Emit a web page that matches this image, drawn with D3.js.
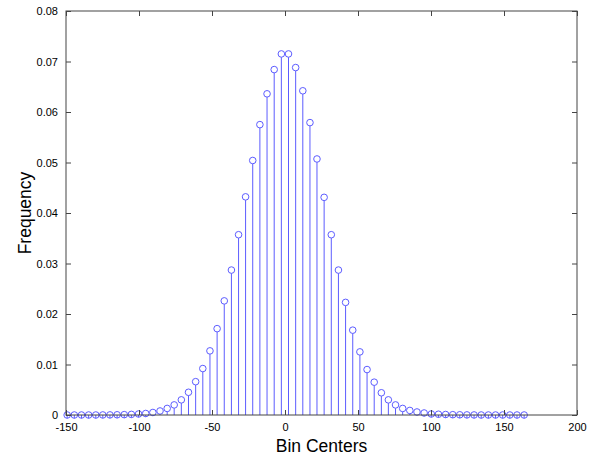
<!DOCTYPE html>
<html>
<head>
<meta charset="utf-8">
<script src="https://cdn.jsdelivr.net/npm/d3@7"></script>
<style>
  body { margin: 0; background: #fff; }
  text { font-family: "Liberation Sans", Arial, sans-serif; }
</style>
</head>
<body>
<div id="chart"></div>
<script>
// bin centers
var binCenters = [-149.2, -144.3, -139.4, -134.5, -129.6, -124.8, -119.9, -115.0, -110.1, -105.2,
  -100.3, -95.4, -90.5, -85.6, -80.7, -75.9, -71.0, -66.1, -61.2, -56.3,
  -51.4, -46.5, -41.6, -36.7, -31.8, -27.0, -22.1, -17.2, -12.3, -7.4,
  -2.5, 2.4, 7.3, 12.2, 17.1, 21.9, 26.8, 31.7, 36.6, 41.5,
  46.4, 51.3, 56.2, 61.1, 66.0, 70.8, 75.7, 80.6, 85.5, 90.4,
  95.3, 100.2, 105.1, 110.0, 114.9, 119.7, 124.6, 129.5, 134.4, 139.3,
  144.2, 149.1, 154.0, 158.9, 163.8];

var frequency = [0, 0, 0, 0, 0, 0.00001, 0.00002, 0.00004, 0.00007, 0.00012,
  0.0002, 0.0003, 0.0005, 0.0008, 0.0013, 0.0020, 0.0030, 0.0045, 0.0066, 0.0092,
  0.0127, 0.0171, 0.0226, 0.0287, 0.0357, 0.0432, 0.0504, 0.0575, 0.0636, 0.0684,
  0.0715, 0.0715, 0.0688, 0.0642, 0.0579, 0.0507, 0.0431, 0.0357, 0.0287, 0.0223,
  0.0168, 0.0125, 0.0090, 0.0065, 0.0044, 0.0030, 0.0020, 0.0013, 0.0009, 0.0006,
  0.0004, 0.0002, 0.00015, 0.0001, 0.00006, 0.00004, 0.00002, 0.00001, 0, 0,
  0, 0, 0, 0, 0];

var xTicks = [-150, -100, -50, 0, 50, 100, 150, 200];
var yTicks = [0, 0.01, 0.02, 0.03, 0.04, 0.05, 0.06, 0.07, 0.08];

var data = binCenters.map(function(c, i) { return {x: c, y: frequency[i]}; });

var margin = {top: 11, right: 21, bottom: 44, left: 66},
    width = 598 - margin.left - margin.right,
    height = 459 - margin.top - margin.bottom;

var svg = d3.select("#chart")
  .append("svg")
    .attr("width", 598)
    .attr("height", 459)
  .append("g")
    .attr("transform", "translate(" + margin.left + "," + margin.top + ")");

var x = d3.scaleLinear().domain([-150, 200]).range([0, width]);
var y = d3.scaleLinear().domain([0, 0.08]).range([height, 0]);

var stemColor = "#5c5cff";

// stems
svg.append("g")
  .selectAll("line")
  .data(data)
  .enter()
  .append("line")
    .attr("x1", function(d) { return x(d.x); })
    .attr("x2", function(d) { return x(d.x); })
    .attr("y1", y(0))
    .attr("y2", function(d) { return y(d.y) + 3.3; })
    .style("stroke", stemColor)
    .style("stroke-width", 1);

// open circle markers
svg.append("g")
  .selectAll("circle")
  .data(data)
  .enter()
  .append("circle")
    .attr("cx", function(d) { return x(d.x); })
    .attr("cy", function(d) { return y(d.y); })
    .attr("r", 3.3)
    .style("fill", "none")
    .style("stroke", stemColor)
    .style("stroke-width", 1);

// axes, ticks pointing inward on all four sides
function styleAxis(g) {
  g.select(".domain").remove();
  g.selectAll(".tick line").style("stroke", "#444");
  g.selectAll(".tick text").style("font-size", "11px").style("fill", "#000");
}

svg.append("g")
  .attr("transform", "translate(0," + height + ")")
  .call(d3.axisBottom(x).tickValues(xTicks).tickSizeInner(-5).tickSizeOuter(0).tickPadding(8)
    .tickFormat(function(d) { return String(d); }))
  .call(styleAxis);

svg.append("g")
  .call(d3.axisTop(x).tickValues(xTicks).tickSizeInner(-5).tickSizeOuter(0).tickFormat(""))
  .call(styleAxis);

svg.append("g")
  .call(d3.axisLeft(y).tickValues(yTicks).tickSizeInner(-5).tickSizeOuter(0).tickPadding(8)
    .tickFormat(function(d) { return d === 0 ? "0" : d.toFixed(2); }))
  .call(styleAxis);

svg.append("g")
  .attr("transform", "translate(" + width + ",0)")
  .call(d3.axisRight(y).tickValues(yTicks).tickSizeInner(-5).tickSizeOuter(0).tickFormat(""))
  .call(styleAxis);

// frame
svg.append("rect")
  .attr("width", width)
  .attr("height", height)
  .style("fill", "none")
  .style("stroke", "#444")
  .style("stroke-width", 1);

// axis labels
svg.append("text")
  .attr("x", width / 2)
  .attr("y", height + 37)
  .attr("text-anchor", "middle")
  .style("font-size", "17.5px")
  .text("Bin Centers");

svg.append("text")
  .attr("transform", "rotate(-90)")
  .attr("x", -height / 2)
  .attr("y", -35)
  .attr("text-anchor", "middle")
  .style("font-size", "17.5px")
  .text("Frequency");
</script>
</body>
</html>
